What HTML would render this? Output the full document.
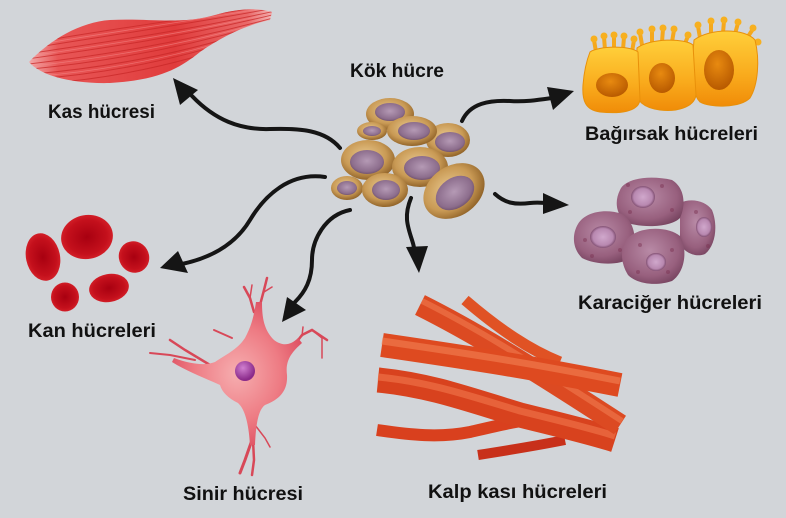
<!DOCTYPE html>
<html><head><meta charset="utf-8"><style>
html,body{margin:0;padding:0;background:#d2d5d9;}
svg{display:block;}
text{font-family:"Liberation Sans",Arial,sans-serif;font-weight:bold;font-size:19px;fill:#111;}
</style></head><body>
<svg width="786" height="518" viewBox="0 0 786 518" xmlns="http://www.w3.org/2000/svg">
<defs>
<linearGradient id="musc" x1="0" y1="0" x2="1" y2="0">
<stop offset="0" stop-color="#f2a8a8"/><stop offset="0.12" stop-color="#e85656"/><stop offset="0.6" stop-color="#e03c3c"/><stop offset="0.9" stop-color="#ea6a6a"/><stop offset="1" stop-color="#f3b8b8"/></linearGradient>
<clipPath id="mclip"><path d="M29,62 C50,40 80,22 110,20 C150,18 180,25 215,15 C240,8 260,8 272,12 L270,20 C245,25 220,38 200,52 C180,68 160,80 110,83 C70,84 40,75 29,62 Z"/></clipPath>
<radialGradient id="stem" cx="0.45" cy="0.4" r="0.6"><stop offset="0" stop-color="#e8c88e"/><stop offset="0.65" stop-color="#c99a55"/><stop offset="1" stop-color="#93652a"/></radialGradient>
<radialGradient id="nuc" cx="0.5" cy="0.45" r="0.6"><stop offset="0" stop-color="#b59ab5"/><stop offset="0.75" stop-color="#8c6d8c"/><stop offset="1" stop-color="#674862"/></radialGradient>
<linearGradient id="gut" x1="0" y1="0" x2="0" y2="1"><stop offset="0" stop-color="#ffcf3a"/><stop offset="0.6" stop-color="#f9aa1c"/><stop offset="1" stop-color="#f08c08"/></linearGradient>
<radialGradient id="gnuc" cx="0.45" cy="0.35" r="0.65"><stop offset="0" stop-color="#e88a10"/><stop offset="1" stop-color="#b85a00"/></radialGradient>
<radialGradient id="rbc" cx="0.5" cy="0.5" r="0.55"><stop offset="0" stop-color="#a80010"/><stop offset="0.7" stop-color="#c4101c"/><stop offset="1" stop-color="#d8242c"/></radialGradient>
<radialGradient id="liv" cx="0.45" cy="0.4" r="0.65"><stop offset="0" stop-color="#b88aa6"/><stop offset="0.7" stop-color="#98607e"/><stop offset="1" stop-color="#774460"/></radialGradient>
<radialGradient id="lnuc" cx="0.5" cy="0.5" r="0.55"><stop offset="0" stop-color="#d0a8cc"/><stop offset="0.7" stop-color="#b888b0"/><stop offset="1" stop-color="#6a3858"/></radialGradient>
<radialGradient id="soma" cx="0.5" cy="0.5" r="0.55"><stop offset="0" stop-color="#f6aeb0"/><stop offset="0.6" stop-color="#ee7c84"/><stop offset="1" stop-color="#de5062"/></radialGradient>
<radialGradient id="nnuc" cx="0.4" cy="0.35" r="0.6"><stop offset="0" stop-color="#d080d0"/><stop offset="1" stop-color="#8a2a8a"/></radialGradient>
</defs>

<!-- Muscle cell -->
<path d="M29,62 C50,40 80,22 110,20 C150,18 180,25 215,15 C240,8 260,8 272,12 L270,20 C245,25 220,38 200,52 C180,68 160,80 110,83 C70,84 40,75 29,62 Z" fill="url(#musc)"/>
<g clip-path="url(#mclip)" fill="none" stroke="#c82828" stroke-width="1" opacity="0.75">
<path d="M20,45 C90,32 180,20 280,4"/><path d="M20,50 C90,38 180,26 280,7"/><path d="M20,55 C90,44 180,32 280,10"/><path d="M20,60 C90,50 180,38 280,13"/><path d="M20,65 C90,57 180,44 280,16"/><path d="M20,70 C90,64 180,50 280,19"/><path d="M20,75 C90,70 180,56 280,22"/><path d="M20,80 C90,76 180,62 280,25"/><path d="M20,85 C90,82 180,68 280,28"/>
</g>
<g clip-path="url(#mclip)" fill="none" stroke="#f48a8a" stroke-width="0.8" opacity="0.6">
<path d="M20,47.5 C90,35 180,23 280,5.5"/><path d="M20,57.5 C90,47 180,35 280,11.5"/><path d="M20,67.5 C90,60 180,47 280,17.5"/><path d="M20,77.5 C90,73 180,59 280,23.5"/>
</g>

<!-- Intestinal cells -->
<g stroke="#f5a81c" stroke-width="4" stroke-linecap="round" fill="none">
<path d="M596,52 L594,40"/><path d="M605,50 L604,37"/><path d="M614,50 L614,36"/><path d="M623,50 L624,37"/><path d="M632,52 L634,40"/>
<path d="M642,45 L640,33"/><path d="M652,42 L652,30"/><path d="M662,42 L663,29"/><path d="M672,42 L674,30"/><path d="M684,46 L688,36"/>
<path d="M700,38 L698,26"/><path d="M711,34 L711,22"/><path d="M723,33 L724,21"/><path d="M735,34 L738,23"/><path d="M747,38 L753,29"/><path d="M752,46 L758,42"/>
</g>
<g fill="#f7b020">
<circle cx="594" cy="39" r="3.5"/><circle cx="604" cy="36" r="3.5"/><circle cx="614" cy="35" r="3.5"/><circle cx="624" cy="36" r="3.5"/><circle cx="634" cy="39" r="3.5"/>
<circle cx="640" cy="32" r="3.5"/><circle cx="652" cy="29" r="3.5"/><circle cx="663" cy="28" r="3.5"/><circle cx="674" cy="29" r="3.5"/><circle cx="688" cy="35" r="3.5"/>
<circle cx="698" cy="25" r="3.5"/><circle cx="711" cy="21" r="3.5"/><circle cx="724" cy="20" r="3.5"/><circle cx="738" cy="22" r="3.5"/><circle cx="753" cy="28" r="3.5"/><circle cx="758" cy="42" r="3.5"/>
</g>
<path d="M694,40 C710,28 745,28 755,40 C760,60 758,85 750,98 C740,108 710,108 700,102 C693,95 692,80 692,65 Z" fill="url(#gut)" stroke="#e8900a" stroke-width="1"/>
<path d="M637,48 C650,38 685,38 693,45 L696,95 C694,108 675,112 660,110 C645,108 636,102 636,90 Z" fill="url(#gut)" stroke="#e8900a" stroke-width="1"/>
<path d="M590,52 C598,46 630,45 638,52 L640,100 C638,112 620,114 600,112 C585,110 582,100 583,85 C584,72 586,62 590,52 Z" fill="url(#gut)" stroke="#e8900a" stroke-width="1"/>
<ellipse cx="612" cy="85" rx="16" ry="12" fill="url(#gnuc)"/>
<ellipse cx="662" cy="78" rx="13" ry="15" fill="url(#gnuc)"/>
<ellipse cx="719" cy="70" rx="15" ry="20" fill="url(#gnuc)"/>

<!-- Red blood cells -->
<ellipse cx="43" cy="257" rx="17" ry="24" transform="rotate(-12 43 257)" fill="url(#rbc)"/>
<ellipse cx="87" cy="237" rx="26" ry="22" transform="rotate(-10 87 237)" fill="url(#rbc)"/>
<ellipse cx="134" cy="257" rx="15" ry="16" transform="rotate(-30 134 257)" fill="url(#rbc)"/>
<ellipse cx="65" cy="297" rx="14" ry="14.5" fill="url(#rbc)"/>
<ellipse cx="109" cy="288" rx="20" ry="14" transform="rotate(-10 109 288)" fill="url(#rbc)"/>

<!-- Liver cells -->
<path d="M680,203 C690,198 705,200 712,210 C718,225 716,245 705,254 C695,258 685,252 680,245 Z" fill="url(#liv)"/>
<path d="M620,190 C625,178 650,175 672,180 C685,188 686,205 680,218 C670,228 640,228 625,222 C615,212 615,200 620,190 Z" fill="url(#liv)"/>
<path d="M578,224 C585,212 605,208 622,214 C636,222 638,245 630,258 C620,266 595,265 582,258 C572,248 572,234 578,224 Z" fill="url(#liv)"/>
<path d="M628,238 C640,226 668,226 680,236 C688,250 685,272 672,281 C658,286 638,285 628,275 C620,262 620,248 628,238 Z" fill="url(#liv)"/>
<ellipse cx="643" cy="197" rx="12" ry="11" fill="url(#lnuc)"/>
<ellipse cx="603" cy="237" rx="13" ry="11" fill="url(#lnuc)"/>
<ellipse cx="704" cy="227" rx="8" ry="10" fill="url(#lnuc)"/>
<ellipse cx="656" cy="262" rx="10" ry="9" fill="url(#lnuc)"/>
<g fill="#7a3050" opacity="0.45">
<circle cx="628" cy="185" r="2"/><circle cx="662" cy="186" r="2"/><circle cx="672" cy="210" r="2"/><circle cx="630" cy="212" r="2"/><circle cx="585" cy="240" r="2"/><circle cx="620" cy="250" r="2"/><circle cx="592" cy="256" r="2"/><circle cx="640" cy="245" r="2"/><circle cx="672" cy="250" r="2"/><circle cx="638" cy="272" r="2"/><circle cx="668" cy="272" r="2"/><circle cx="696" cy="212" r="2"/><circle cx="708" cy="246" r="2"/>
</g>

<!-- Neuron -->
<g stroke="#d84858" fill="none" stroke-linecap="round">
<path d="M254,312 L250,298 L244,287" stroke-width="2.5"/><path d="M250,298 L252,285" stroke-width="1.5"/>
<path d="M260,305 L264,290 L267,278" stroke-width="2.5"/><path d="M264,292 L272,287" stroke-width="1.5"/>
<path d="M232,338 L214,330" stroke-width="2"/>
<path d="M210,365 L185,350 L170,340" stroke-width="2.5"/><path d="M195,360 L170,355 L150,353" stroke-width="2"/>
<path d="M292,348 L302,335 L312,330 L327,340" stroke-width="2.5"/><path d="M302,336 L303,327" stroke-width="1.5"/><path d="M312,330 L322,338 L322,358" stroke-width="1.5"/>
<path d="M252,440 L245,460 L240,473" stroke-width="3"/><path d="M253,440 L254,460 L252,475" stroke-width="2.5"/><path d="M255,425 L265,438 L270,447" stroke-width="1.5"/>
</g>
<path d="M245,338 C252,325 254,315 256,302 L262,302 C262,318 264,330 274,340 C282,346 290,346 298,338 L302,343 C292,352 285,360 287,375 C288,392 278,400 265,405 C258,410 256,425 255,445 L250,445 C249,428 246,410 238,403 C228,398 222,392 220,385 C205,378 188,372 172,362 L174,358 C190,364 205,366 215,362 C225,355 237,350 245,338 Z" fill="url(#soma)"/>
<circle cx="245" cy="371" r="10" fill="url(#nnuc)"/>

<!-- Cardiac muscle -->
<g fill="none" stroke-linecap="butt">
<path d="M478,455 C510,450 540,445 565,440" stroke="#c8301a" stroke-width="10"/>
<path d="M377,430 C410,435 440,438 470,432 C500,425 520,420 545,418" stroke="#d9401e" stroke-width="12"/>
<path d="M378,380 C430,385 470,400 520,415 C560,425 590,432 615,440" stroke="#d8421e" stroke-width="25"/>
<path d="M378,377 C430,382 470,396 520,411 C560,421 590,428 615,436" stroke="#ee7046" stroke-width="7" opacity="0.7"/>
<path d="M420,305 C470,330 520,360 620,425" stroke="#dc4a22" stroke-width="22"/>
<path d="M422,301 C472,326 522,356 622,421" stroke="#f07c50" stroke-width="6" opacity="0.6"/>
<path d="M465,300 C500,330 530,350 560,362" stroke="#e05224" stroke-width="11"/>
<path d="M382,345 C450,355 520,365 620,385" stroke="#de4a20" stroke-width="24"/>
<path d="M382,341 C450,351 520,361 620,381" stroke="#f07c50" stroke-width="7" opacity="0.65"/>
</g>

<!-- Stem cells -->
<g>
<ellipse cx="390" cy="114" rx="24" ry="16" fill="url(#stem)"/><ellipse cx="390" cy="112" rx="15" ry="9" fill="url(#nuc)"/>
<ellipse cx="448" cy="140" rx="22" ry="17" fill="url(#stem)"/><ellipse cx="450" cy="142" rx="15" ry="10" fill="url(#nuc)"/>
<ellipse cx="412" cy="131" rx="25" ry="15" fill="url(#stem)"/><ellipse cx="414" cy="131" rx="16" ry="9" fill="url(#nuc)"/>
<ellipse cx="372" cy="131" rx="15" ry="9" fill="url(#stem)"/><ellipse cx="372" cy="131" rx="9" ry="5" fill="url(#nuc)"/>
<ellipse cx="368" cy="160" rx="27" ry="20" fill="url(#stem)"/><ellipse cx="367" cy="162" rx="17" ry="12" fill="url(#nuc)"/>
<ellipse cx="420" cy="167" rx="28" ry="20" fill="url(#stem)"/><ellipse cx="422" cy="168" rx="18" ry="12" fill="url(#nuc)"/>
<ellipse cx="347" cy="188" rx="16" ry="12" fill="url(#stem)"/><ellipse cx="347" cy="188" rx="10" ry="7" fill="url(#nuc)"/>
<ellipse cx="385" cy="190" rx="23" ry="17" fill="url(#stem)"/><ellipse cx="386" cy="190" rx="14" ry="10" fill="url(#nuc)"/>
<ellipse cx="454" cy="191" rx="33" ry="25" transform="rotate(-35 454 191)" fill="url(#stem)"/><ellipse cx="455" cy="193" rx="21" ry="15" transform="rotate(-35 455 193)" fill="url(#nuc)"/>
</g>

<!-- Arrows -->
<g fill="none" stroke="#151515" stroke-width="4" stroke-linecap="round">
<path d="M340,148 C325,130 300,128 270,129 C240,130 215,120 192,96"/>
<path d="M462,121 C470,103 490,100 510,101 C525,102 538,100 552,98"/>
<path d="M495,194 C505,203 515,205 530,203 C538,202 544,203 548,203"/>
<path d="M411,198 C404,215 407,225 412,240 C414,246 414,248 415,252"/>
<path d="M325,177 C290,172 265,195 250,220 C235,245 210,258 182,264"/>
<path d="M350,210 C325,215 312,240 312,260 C312,280 305,292 295,302"/>
</g>
<g fill="#151515">
<polygon points="173,78 180,105 198,90"/>
<polygon points="574,91 547,87 553,110"/>
<polygon points="569,205 543,193 543,214"/>
<polygon points="419,273 406,247 428,246"/>
<polygon points="160,268 178,251 188,273"/>
<polygon points="282,322 287,297 306,310"/>
</g>

<!-- Labels -->
<text x="350" y="77" textLength="94" lengthAdjust="spacingAndGlyphs">Kök hücre</text>
<text x="48" y="118" textLength="107" lengthAdjust="spacingAndGlyphs">Kas hücresi</text>
<text x="585" y="140" textLength="173" lengthAdjust="spacingAndGlyphs">Bağırsak hücreleri</text>
<text x="28" y="337" textLength="128" lengthAdjust="spacingAndGlyphs">Kan hücreleri</text>
<text x="578" y="309" textLength="184" lengthAdjust="spacingAndGlyphs">Karaciğer hücreleri</text>
<text x="183" y="500" textLength="120" lengthAdjust="spacingAndGlyphs">Sinir hücresi</text>
<text x="428" y="498" textLength="179" lengthAdjust="spacingAndGlyphs">Kalp kası hücreleri</text>
</svg>
</body></html>
